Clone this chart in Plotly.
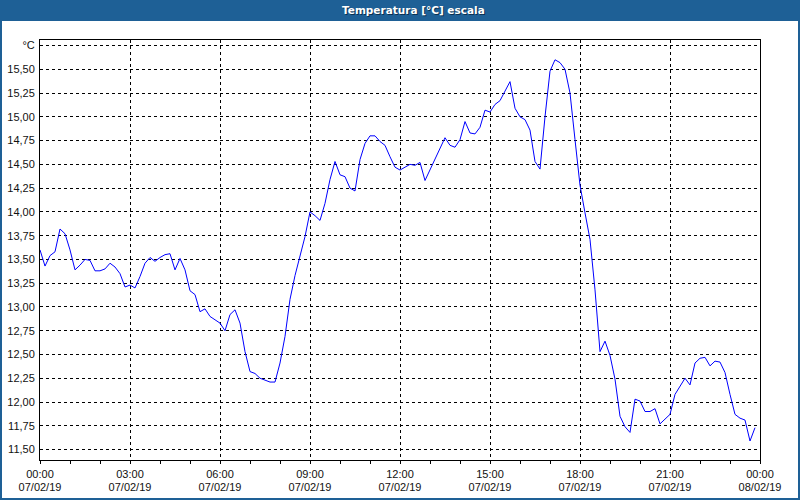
import pandas as pd
import plotly.graph_objects as go

# ---- data (10-minute samples) ----
start_time = "2019-02-07 00:00"
sample_minutes = 10
temperatures = [
    13.60, 13.43, 13.54, 13.58, 13.82, 13.77, 13.60, 13.39, 13.44, 13.50,
    13.49, 13.38, 13.38, 13.40, 13.46, 13.42, 13.35, 13.21, 13.23, 13.20,
    13.32, 13.46, 13.52, 13.48, 13.52, 13.55, 13.56, 13.39, 13.51, 13.39,
    13.17, 13.13, 12.95, 12.98, 12.90, 12.86, 12.83, 12.75, 12.92, 12.97,
    12.83, 12.53, 12.32, 12.30, 12.25, 12.23, 12.21, 12.21, 12.41, 12.69,
    13.08, 13.33, 13.53, 13.74, 14.00, 13.96, 13.91, 14.09, 14.34, 14.53,
    14.39, 14.37, 14.25, 14.22, 14.55, 14.72, 14.80, 14.80, 14.74, 14.70,
    14.58, 14.47, 14.44, 14.47, 14.50, 14.49, 14.52, 14.33, 14.44, 14.56,
    14.67, 14.78, 14.70, 14.68, 14.76, 14.95, 14.83, 14.82, 14.89, 15.07,
    15.05, 15.13, 15.17, 15.27, 15.37, 15.09, 15.00, 14.97, 14.86, 14.53,
    14.45, 15.00, 15.48, 15.60, 15.57, 15.50, 15.25, 14.76, 14.28, 13.99,
    13.71, 13.18, 12.53, 12.64, 12.49, 12.24, 11.85, 11.74, 11.68, 12.03,
    12.01, 11.90, 11.90, 11.93, 11.77, 11.82, 11.87, 12.08, 12.17, 12.25,
    12.18, 12.41, 12.46, 12.47, 12.38, 12.43, 12.42, 12.31, 12.08, 11.87,
    11.83, 11.81, 11.59, 11.73,
]
times = pd.date_range(start=start_time, periods=len(temperatures), freq=f"{sample_minutes}min")

x_tick_values = ["2019-02-07 00:00", "2019-02-07 03:00", "2019-02-07 06:00",
                 "2019-02-07 09:00", "2019-02-07 12:00", "2019-02-07 15:00",
                 "2019-02-07 18:00", "2019-02-07 21:00", "2019-02-08 00:00"]
x_time_labels = ["00:00", "03:00", "06:00", "09:00", "12:00", "15:00", "18:00", "21:00", "00:00"]
x_date_labels = ["07/02/19", "07/02/19", "07/02/19", "07/02/19", "07/02/19",
                 "07/02/19", "07/02/19", "07/02/19", "08/02/19"]
y_tick_values = [11.50, 11.75, 12.00, 12.25, 12.50, 12.75, 13.00, 13.25, 13.50,
                 13.75, 14.00, 14.25, 14.50, 14.75, 15.00, 15.25, 15.50, 15.75]
y_tick_labels = ["11,50", "11,75", "12,00", "12,25", "12,50", "12,75", "13,00", "13,25", "13,50",
                 "13,75", "14,00", "14,25", "14,50", "14,75", "15,00", "15,25", "15,50", "°C"]
title_text = "Temperatura [°C] escala"

# ---- styling ----
BLUE_BAR = "#1e6096"
W, H = 800, 500
ML, MR, MT, MB = 40, 40, 40, 40
PW, PH = W - ML - MR, H - MT - MB
X_RANGE = ["2019-02-07 00:00", "2019-02-08 00:00"]


def px_x(p):
    return (p - ML) / PW


def px_y(p):
    return (H - MB - p) / PH


fig = go.Figure()
fig.add_trace(go.Scatter(
    x=times, y=temperatures, mode="lines",
    line=dict(color="#0000ff", width=1), hoverinfo="x+y", showlegend=False,
))
# empty helper trace so the date-label axis is drawn
fig.add_trace(go.Scatter(
    x=x_tick_values, y=[None] * len(x_tick_values), xaxis="x2", yaxis="y",
    mode="lines", hoverinfo="skip", showlegend=False,
))

font = dict(family="Liberation Sans, Arial, sans-serif", size=11, color="#111111")
title_font_size = 10.5
title_center_px = 413

fig.update_layout(
    width=W, height=H,
    margin=dict(l=ML, r=MR, t=MT, b=MB, pad=0, autoexpand=False),
    paper_bgcolor="white", plot_bgcolor="white",
    font=font,
    showlegend=False,
    xaxis=dict(
        range=X_RANGE,
        automargin=False,
        tickmode="array", tickvals=x_tick_values, ticktext=x_time_labels,
        ticks="outside", ticklen=3, tickcolor="black", tickwidth=1,
        minor=dict(tickmode="linear", tick0="2019-02-07 00:00", dtick=3600000,
                   ticks="outside", ticklen=3, tickcolor="black", showgrid=False),
        showgrid=True, gridcolor="black", gridwidth=1, griddash="3px,3px",
        showline=True, mirror=True, linecolor="black", linewidth=1,
        zeroline=False, tickfont=font, ticklabelstandoff=1,
    ),
    xaxis2=dict(
        range=X_RANGE, overlaying="x", side="bottom", anchor="y",
        automargin=False,
        tickmode="array", tickvals=x_tick_values, ticktext=x_date_labels,
        ticks="", showgrid=False, showline=False, zeroline=False,
        tickfont=font, ticklabelstandoff=19,
    ),
    yaxis=dict(
        range=[11.39, 15.808],
        automargin=False,
        tickmode="array", tickvals=y_tick_values, ticktext=y_tick_labels,
        ticks="", showgrid=True, gridcolor="black", gridwidth=1, griddash="3px,3px",
        showline=True, mirror=True, linecolor="black", linewidth=1,
        zeroline=False, tickfont=font, ticklabelstandoff=2,
    ),
    shapes=[
        dict(type="rect", xref="paper", yref="paper",
             x0=px_x(-2), x1=px_x(W + 2), y0=px_y(21), y1=px_y(-2),
             fillcolor=BLUE_BAR, line=dict(width=0), layer="above"),
        dict(type="rect", xref="paper", yref="paper",
             x0=px_x(1), x1=px_x(W - 1), y0=px_y(H - 1), y1=px_y(1),
             fillcolor="rgba(0,0,0,0)", line=dict(color=BLUE_BAR, width=2), layer="above"),
    ],
    annotations=[
        dict(text="<b>" + title_text + "</b>", xref="paper", yref="paper",
             x=px_x(title_center_px + 1), y=px_y(11), xanchor="center", yanchor="middle",
             showarrow=False,
             font=dict(family="DejaVu Sans, sans-serif", size=title_font_size, color="#0b3050")),
        dict(text="<b>" + title_text + "</b>", xref="paper", yref="paper",
             x=px_x(title_center_px), y=px_y(10), xanchor="center", yanchor="middle",
             showarrow=False,
             font=dict(family="DejaVu Sans, sans-serif", size=title_font_size, color="white")),
    ],
)

fig.write_html("out.html", config={"displayModeBar": False})
